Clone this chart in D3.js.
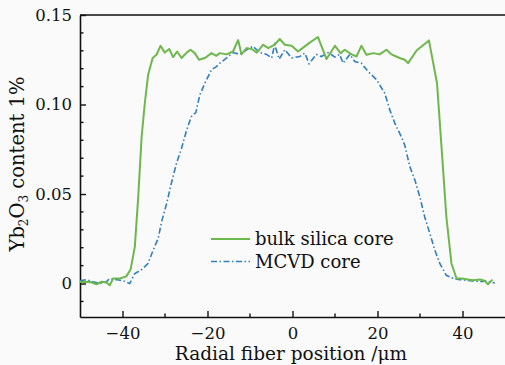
<!DOCTYPE html>
<html>
  <head>
    <meta charset="utf-8">
    <title>Yb2O3 radial profile</title>
    <script src="https://d3js.org/d3.v7.min.js"></script>
    <style>
      body { margin: 0; background: #fafafa; }
      svg { display: block; font-family: "DejaVu Serif", serif; }
      .tick text { fill: #111; }
    </style>
  </head>
  <body>
    <svg id="chart" width="505" height="365"></svg>
    <script>
      // bulk silica core (green, solid)
      var bulkX = [-50, -47.7, -46.1, -44.9, -43.8, -43.0, -42.2, -40.6, -39.1, -38.1, -37.1, -36.3, -35.5, -34.75, -33.97,
        -32.9, -32.0, -31.06, -30.05, -29.0, -28.1, -27.15, -26.1, -24.9, -24.0, -23.0, -22.0, -20.6, -19.06, -17.9,
        -17.1, -15.5, -14.0, -12.8, -12.0, -10.8, -9.6, -8.4, -6.9, -5.7, -4.2, -3.0, -1.8, -0.2, 1.3, 2.35, 3.9, 6.0,
        8.0, 10.0, 11.3, 12.3, 13.9, 15.06, 16.2, 17.4, 19.0, 20.5, 22.1, 23.3, 25.2, 26.4, 27.2, 29.2, 32.1, 34.0,
        35.06, 36.2, 37.4, 38.6, 39.8, 41.3, 42.5, 44.1, 45.2, 46.0, 47.06];
      var bulkY = [0.0009, 0.001, -0.0004, 0.001, 0.0006, -0.001, 0.0028, 0.0028, 0.004, 0.0078, 0.0205, 0.0485, 0.082, 0.1007, 0.1166,
        0.126, 0.1278, 0.1328, 0.129, 0.131, 0.1265, 0.1296, 0.126, 0.129, 0.1306, 0.1287, 0.125, 0.126, 0.1287, 0.1272,
        0.1287, 0.128, 0.1296, 0.136, 0.128, 0.1315, 0.131, 0.129, 0.1334, 0.1315, 0.1334, 0.1366, 0.1334, 0.1328, 0.1296, 0.1315, 0.1343, 0.1377,
        0.1254, 0.1328, 0.1287, 0.1306, 0.128, 0.1268, 0.1328, 0.1278, 0.1287, 0.128, 0.1306, 0.128, 0.126, 0.125, 0.1231, 0.1302, 0.1358, 0.112,
        0.0765, 0.0373, 0.0112, 0.0028, 0.0028, 0.0022, 0.0018, 0.0022, 0.0015, -0.0004, 0.0022];

      // MCVD core (blue, dash-dot)
      var mcvdX = [-50, -48.5, -46.9, -45.3, -43.8, -43.0, -41.4, -39.9, -38.3, -37.1, -35.5, -34.0, -32.8, -31.6, -30.8,
        -29.6, -28.5, -27.3, -26.1, -24.9, -23.8, -22.75, -21.8, -20.6, -19.06, -17.9, -17.1, -15.5, -14.0, -12.4,
        -10.8, -9.3, -7.7, -6.1, -4.9, -4.2, -3.15, -1.8, -0.2, 1.7, 2.9, 3.9, 5.6, 6.8, 8.4, 10.0, 11.1, 11.9, 13.5,
        14.66, 16.2, 17.8, 19.8, 21.7, 22.9, 24.07, 25.6, 26.4, 27.6, 28.8, 29.95, 31.1, 32.3, 33.5, 34.66, 36.2,
        37.8, 39.4, 40.9, 42.5, 44.1, 45.6, 47.6];
      var mcvdY = [0.0015, 0.0022, 0.001, 0, 0.001, 0.0028, 0.0022, 0.0015, 0.0, 0.0056, 0.0078, 0.0112, 0.0186, 0.0252, 0.0345,
        0.0448, 0.056, 0.0672, 0.0756, 0.0858, 0.0932, 0.0955, 0.1054, 0.112, 0.1194, 0.1212, 0.1231, 0.126, 0.129, 0.128,
        0.1306, 0.1325, 0.129, 0.128, 0.126, 0.1334, 0.1254, 0.1306, 0.126, 0.1268, 0.1287, 0.1228, 0.128, 0.1268, 0.129, 0.1265, 0.128, 0.1231, 0.128,
        0.124, 0.1231, 0.1184, 0.1138, 0.1063, 0.097, 0.0896, 0.082, 0.0774, 0.0653, 0.0578, 0.0485, 0.0373, 0.028, 0.0186, 0.0112, 0.0046,
        0.0028, 0.0022, 0.0018, 0.0015, 0.001, 0.0015, 0.0003];

      var xTicks = [-40, -20, 0, 20, 40];
      var xMinor = [-30, -10, 10, 30];
      var yTicks = [0, 0.05, 0.10, 0.15];
      var yTickLabels = ["0", "0.05", "0.10", "0.15"];
      var yMinor = [-0.01, 0.01, 0.02, 0.03, 0.04, 0.06, 0.07, 0.08, 0.09, 0.11, 0.12, 0.13, 0.14];

      var chart = d3.select("#chart");
      var margin = { top: 15, right: 0, bottom: 48, left: 80 };
      var width = 505, height = 365;

      var x = d3.scaleLinear().domain([-50, 50]).range([margin.left, width - margin.right]);
      var y = d3.scaleLinear().domain([-0.0187, 0.15]).range([height - margin.bottom, margin.top]);

      // plot frame (no right spine)
      chart.append("line")
        .attr("x1", x(-50)).attr("x2", x(50))
        .attr("y1", y(0.15)).attr("y2", y(0.15))
        .attr("stroke", "#111").attr("stroke-width", 1.6);

      // axes with inward ticks
      var xAxis = chart.append("g")
        .attr("transform", "translate(0," + y(-0.0187) + ")")
        .call(d3.axisBottom(x).tickValues(xTicks).tickSizeInner(-6).tickSizeOuter(0).tickPadding(10)
          .tickFormat(function(d) { return d < 0 ? "\u2212" + Math.abs(d) : d; }));
      xAxis.append("g").selectAll("line")
        .data(xMinor).join("line")
        .attr("x1", function(d) { return x(d); }).attr("x2", function(d) { return x(d); })
        .attr("y1", 0).attr("y2", -3.5)
        .attr("stroke", "#111").attr("stroke-width", 1.4);

      var yAxis = chart.append("g")
        .attr("transform", "translate(" + x(-50) + ",0)")
        .call(d3.axisLeft(y).tickValues(yTicks).tickSizeInner(-6).tickSizeOuter(0).tickPadding(8)
          .tickFormat(function(d, i) { return yTickLabels[i]; }));
      yAxis.append("g").selectAll("line")
        .data(yMinor).join("line")
        .attr("y1", function(d) { return y(d); }).attr("y2", function(d) { return y(d); })
        .attr("x1", 0).attr("x2", 3.5)
        .attr("stroke", "#111").attr("stroke-width", 1.4);

      [xAxis, yAxis].forEach(function(g) {
        g.select(".domain").attr("stroke", "#111").attr("stroke-width", 1.6);
        g.selectAll(".tick line").attr("stroke", "#111").attr("stroke-width", 1.4);
        g.selectAll(".tick text").attr("font-size", 16.5).attr("font-family", "DejaVu Serif, serif");
      });

      // lines
      var line = d3.line()
        .x(function(d) { return x(d[0]); })
        .y(function(d) { return y(d[1]); });

      chart.append("path")
        .datum(d3.zip(mcvdX, mcvdY))
        .attr("fill", "none")
        .attr("stroke", "#2f7fc1")
        .attr("stroke-width", 1.6)
        .attr("stroke-dasharray", "6,2.5,1.5,2.5")
        .attr("d", line);

      chart.append("path")
        .datum(d3.zip(bulkX, bulkY))
        .attr("fill", "none")
        .attr("stroke", "#6cb84c")
        .attr("stroke-width", 2)
        .attr("stroke-linejoin", "round")
        .attr("d", line);

      // legend
      var legend = chart.append("g").attr("font-size", 18);
      var items = [
        { label: "bulk silica core", color: "#6cb84c", dash: null, w: 2 },
        { label: "MCVD core", color: "#2f7fc1", dash: "6,2.5,1.5,2.5", w: 1.6 }
      ];
      items.forEach(function(d, i) {
        var ly = 239 + i * 22.5;
        legend.append("line")
          .attr("x1", 211).attr("x2", 250).attr("y1", ly).attr("y2", ly)
          .attr("stroke", d.color).attr("stroke-width", d.w)
          .attr("stroke-dasharray", d.dash);
        legend.append("text")
          .attr("x", 255).attr("y", ly + 6)
          .attr("fill", "#111")
          .text(d.label);
      });

      // axis titles
      chart.append("text")
        .attr("x", 291).attr("y", 360)
        .attr("text-anchor", "middle")
        .attr("font-size", 18.5)
        .attr("fill", "#111")
        .text("Radial fiber position /\u03bcm");

      var yTitle = chart.append("text")
        .attr("transform", "translate(24,164) rotate(-90)")
        .attr("text-anchor", "middle")
        .attr("font-size", 19.5)
        .attr("fill", "#111");
      yTitle.append("tspan").text("Yb");
      yTitle.append("tspan").attr("font-size", 12).attr("dy", 4).text("2");
      yTitle.append("tspan").attr("dy", -4).text("O");
      yTitle.append("tspan").attr("font-size", 12).attr("dy", 4).text("3");
      yTitle.append("tspan").attr("dy", -4).text(" content 1%");
    </script>
  </body>
</html>
